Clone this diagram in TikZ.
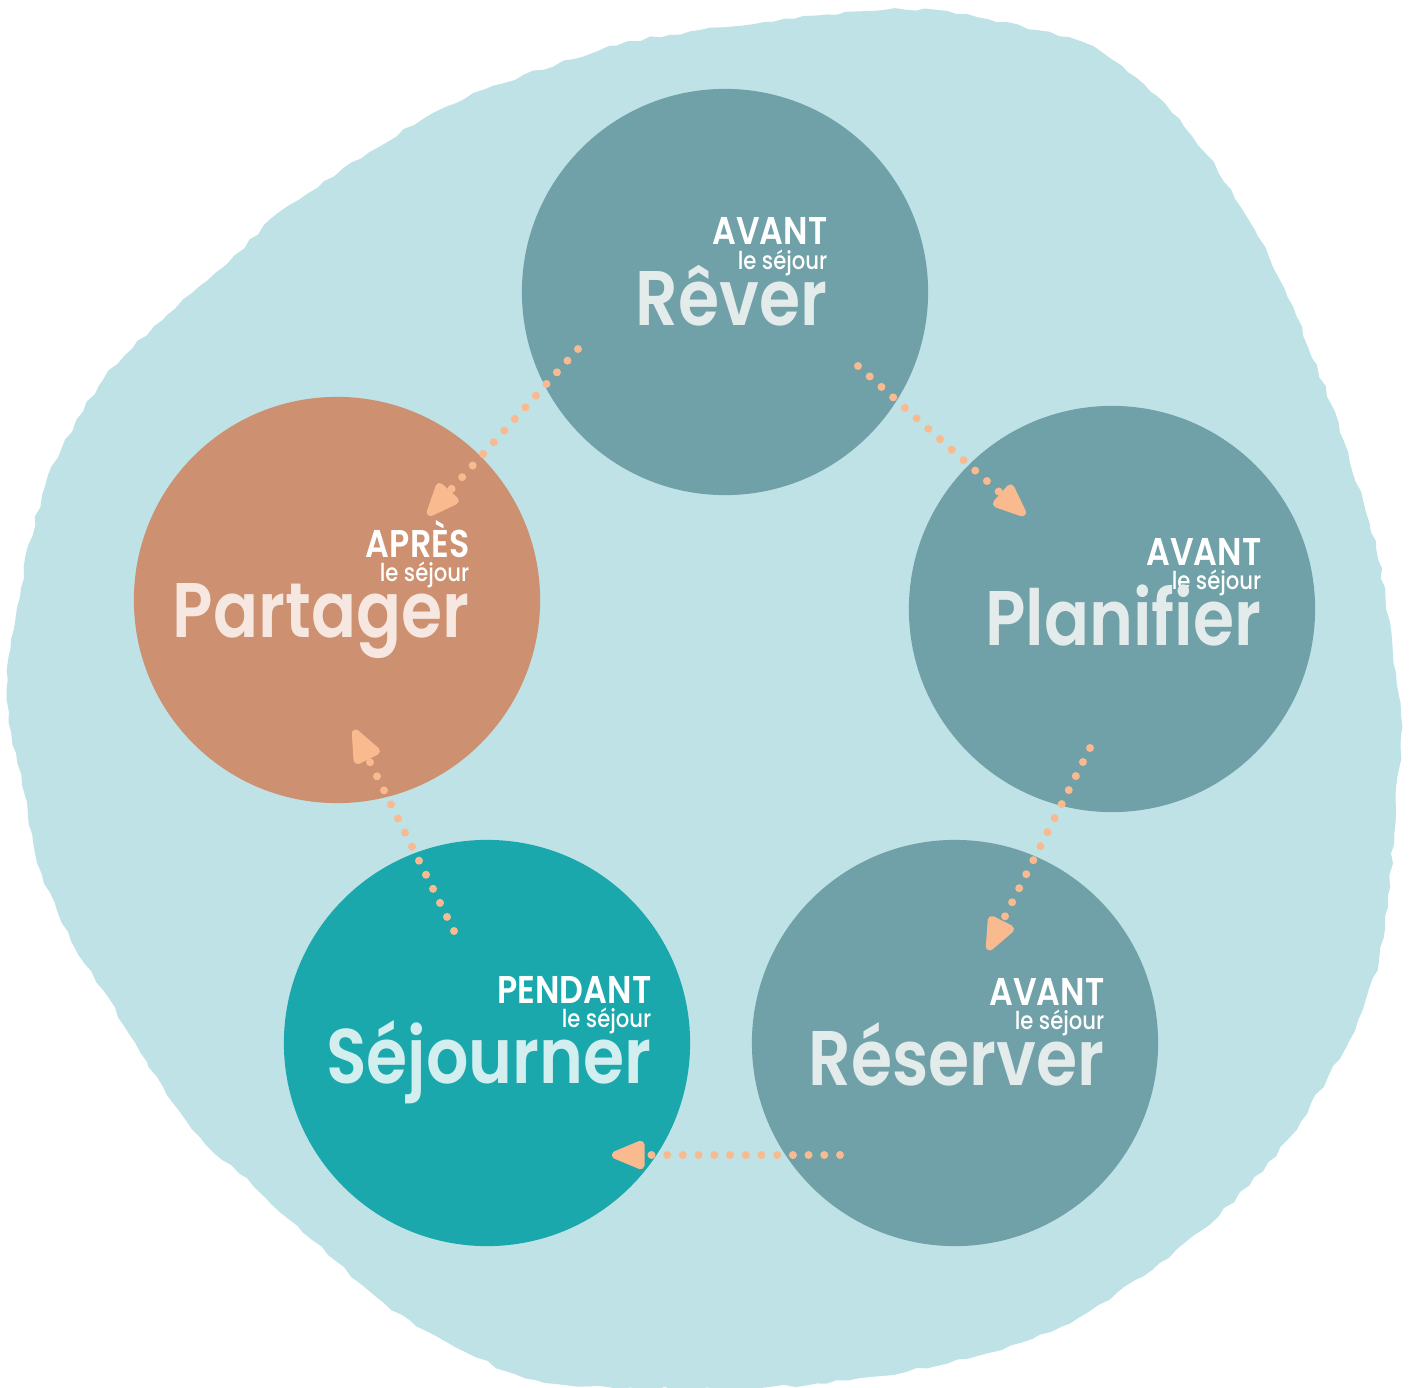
\documentclass[tikz,border=0pt]{standalone}
\usepackage{fontspec}
\setmainfont{Poppins}[FakeStretch=0.86, BoldFont={Poppins SemiBold}]
\newfontfamily\moyen{Poppins Medium}[FakeStretch=0.86]
\usetikzlibrary{arrows.meta,calc,decorations.pathmorphing}

\definecolor{fond}{HTML}{BFE2E6}
\definecolor{avant}{HTML}{70A1A8}
\definecolor{pendant}{HTML}{1BA8AD}
\definecolor{apres}{HTML}{CD9070}
\definecolor{fleche}{HTML}{F9BA8F}
\definecolor{txtavant}{HTML}{E3EBEB}
\definecolor{txtpendant}{HTML}{D2EEEF}
\definecolor{txtapres}{HTML}{F6E7E1}

\tikzset{
  etape/.style={circle, minimum size=4.06cm, inner sep=0pt, fill=#1},
  quand/.style={anchor=base east, inner sep=0pt, text=white,
    font=\bfseries\fontsize{11}{11}\selectfont},
  sejour/.style={anchor=base east, inner sep=0pt, text=white,
    font=\moyen\fontsize{7}{7}\selectfont},
  verbe/.style={anchor=base east, inner sep=0pt, text=#1,
    font=\bfseries\fontsize{22}{22}\selectfont},
  fleche/.style={draw=fleche, line width=0.08cm, line cap=round,
    dash pattern=on 0pt off 0.157cm,
    -{Triangle[length=0.4cm, width=0.3cm, round=false]}}
}

% #1 name, #2 right edge, #3 baseline, #4 moment, #5 verb, #6 colour
\newcommand{\etiquette}[6]{%
  \node[quand] (#1-quand) at (#2,#3-80) {#4};
  \node[sejour] (#1-sejour) at (#2,#3-56) {le séjour};
  \node[verbe=#6] (#1-verbe) at (#2,#3) {#5};
}

\begin{document}
\begin{tikzpicture}[x=0.01cm, y=-0.01cm]
\useasboundingbox (0,0) rectangle (1415,1388);

% paint blob behind the cycle
\fill[fond, decorate, decoration={random steps, segment length=3pt, amplitude=0.5pt}]
  plot[smooth cycle, tension=0.5] coordinates {
  (598,51) (700,30) (873,11) (956,14) (1084,43) (1157,96) (1207,155)
  (1248,219) (1284,288) (1330,402) (1376,548) (1401,716) (1396,791)
  (1385,928) (1358,1020) (1289,1138) (1202,1230) (1088,1312) (988,1353)
  (880,1376) (760,1388) (640,1388) (536,1380) (455,1347) (384,1303)
  (312,1240) (254,1187) (192,1129) (147,1062) (103,990) (71,941)
  (42,874) (22,785) (9,722) (11,640) (45,487) (103,380) (167,315)
  (228,263) (290,205) (446,107)};

\node[etape=avant] (rever) at (725,292) {};
\node[etape=avant] (planifier) at (1112,609) {};
\node[etape=avant] (reserver) at (955,1043) {};
\node[etape=pendant] (sejourner) at (487,1043) {};
\node[etape=apres] (partager) at (337,600) {};

\etiquette{rever}{828}{325}{AVANT}{Rêver}{txtavant}
\etiquette{planifier}{1262}{645}{AVANT}{Planifier}{txtavant}
\etiquette{reserver}{1105}{1085}{AVANT}{Réserver}{txtavant}
\etiquette{sejourner}{652}{1083}{PENDANT}{Séjourner}{txtpendant}
\etiquette{partager}{470}{637}{APRÈS}{Partager}{txtapres}

% dotted arrow ends
\coordinate (r-p) at ($(rever)+(133,74)$);
\coordinate (p-in) at ($(planifier)+(-87,-94)$);
\coordinate (p-r) at ($(planifier)+(-22,139)$);
\coordinate (r-in) at ($(reserver)+(33,-93)$);
\coordinate (r-s) at ($(reserver)+(-115,112)$);
\coordinate (s-in) at ($(sejourner)+(125,112)$);
\coordinate (s-p) at ($(sejourner)+(-33,-112)$);
\coordinate (pa-in) at ($(partager)+(17,130)$);
\coordinate (r-pa) at ($(rever)+(-147,57)$);
\coordinate (pa-in2) at ($(partager)+(91,-85)$);

\draw[fleche] (r-p) -- (p-in);
\draw[fleche] (p-r) -- (r-in);
\draw[fleche] (r-s) -- (s-in);
\draw[fleche] (s-p) -- (pa-in);
\draw[fleche] (r-pa) -- (pa-in2);
\end{tikzpicture}
\end{document}
